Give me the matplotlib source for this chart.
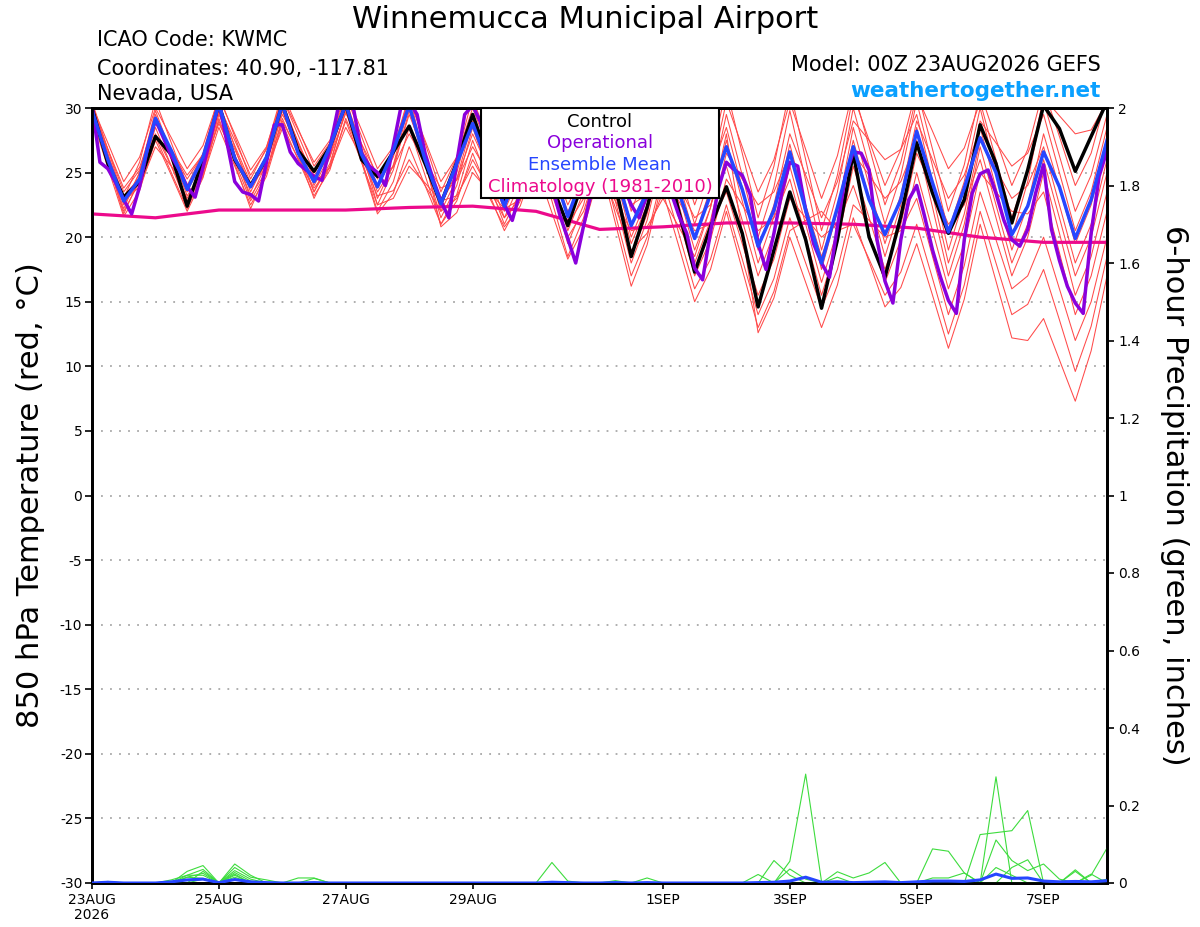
import matplotlib
matplotlib.use("Agg")
import matplotlib.pyplot as plt
from matplotlib.patches import Rectangle
import numpy as np

plt.rcParams['font.family'] = ['DejaVu Sans']

# ---------------- data ----------------
tick_days = [0, 2, 4, 6, 9, 11, 13, 15]
tick_labels = ["23AUG\n2026", "25AUG", "27AUG", "29AUG", "1SEP", "3SEP", "5SEP", "7SEP"]
temp_ticks = [-30, -25, -20, -15, -10, -5, 0, 5, 10, 15, 20, 25, 30]
precip_ticks = [0, 0.2, 0.4, 0.6, 0.8, 1, 1.2, 1.4, 1.6, 1.8, 2]
precip_tick_labels = ["0", "0.2", "0.4", "0.6", "0.8", "1", "1.2", "1.4", "1.6", "1.8", "2"]

# 6-hourly series (65 values, 00Z 23AUG to 00Z 8SEP)
control = [30.0, 25.7, 23.1, 24.3, 27.8, 26.4, 22.4, 26.0, 30.3, 26.0,
           24.0, 26.1, 30.3, 26.7, 25.1, 27.0, 30.3, 26.0, 24.7, 26.6,
           28.6, 25.7, 22.6, 25.8, 29.5, 26.0, 22.9, 26.0, 29.5, 24.0,
           20.9, 24.5, 29.0, 24.0, 18.5, 22.3, 27.0, 22.0, 17.3, 20.8,
           23.9, 20.3, 14.6, 19.0, 23.5, 19.8, 14.5, 19.8, 26.5, 20.0,
           16.9, 21.6, 27.3, 23.4, 20.3, 22.9, 28.7, 25.7, 21.1, 25.2,
           30.2, 28.4, 25.1, 27.8, 30.5]

ens_mean = [29.8, 26.0, 22.8, 24.5, 29.2, 26.7, 23.7, 26.2, 30.3, 26.1,
            23.9, 26.2, 30.3, 26.5, 24.3, 27.0, 30.3, 26.4, 23.9, 26.7,
            30.2, 26.0, 22.6, 25.7, 28.8, 25.5, 22.4, 25.5, 29.0, 25.5,
            21.6, 25.0, 29.0, 25.0, 20.9, 23.5, 27.5, 23.5, 19.9, 23.3,
            27.0, 23.7, 19.3, 22.1, 26.6, 22.1, 18.0, 22.3, 27.0, 22.9,
            20.2, 22.9, 28.2, 24.2, 20.4, 23.8, 27.7, 25.0, 20.2, 22.4,
            26.6, 23.9, 19.9, 22.9, 27.5]

# 3-hourly operational run (129 values)
operational = [30.2, 25.8, 25.3, 24.2, 22.9, 21.8, 23.9, 26.9, 29.1, 27.7,
               26.3, 25.2, 23.9, 23.1, 25.4, 27.8, 30.5, 27.4, 24.3, 23.5,
               23.3, 22.8, 25.8, 28.7, 28.7, 26.6, 25.7, 25.2, 24.7, 24.4,
               26.9, 29.9, 30.5, 29.9, 26.5, 25.5, 25.0, 24.0, 27.1, 30.2,
               30.5, 29.5, 26.5, 24.5, 22.8, 21.5, 25.8, 29.5, 30.2, 28.9,
               26.0, 24.0, 22.5, 21.3, 23.5, 26.5, 29.0, 27.0, 24.0, 21.7,
               19.9, 18.0, 20.9, 23.5, 27.0, 28.0, 26.0, 24.0, 22.5, 21.5,
               23.3, 25.5, 25.5, 23.5, 21.7, 20.3, 17.6, 16.7, 20.4, 23.8,
               25.8, 25.2, 24.8, 23.3, 19.5, 17.5, 20.3, 23.5, 25.8, 25.5,
               22.1, 19.5, 18.0, 16.9, 20.8, 24.7, 26.6, 26.5, 25.2, 19.8,
               16.6, 14.9, 19.8, 22.9, 24.0, 21.6, 19.0, 16.9, 15.1, 14.1,
               19.8, 23.4, 24.9, 25.2, 23.4, 21.3, 19.8, 19.3, 20.6, 23.4,
               25.6, 20.6, 18.2, 16.2, 14.9, 14.1, 20.3, 24.7, 26.7]

# daily climatology (17 values, 00Z each day)
climatology = [21.8, 21.5, 22.1, 22.1, 22.1, 22.3, 22.4, 22.0, 20.6, 20.8,
               21.1, 21.1, 21.0, 20.7, 20.0, 19.6, 19.6]

member_01 = [30.5,26.8,23.0,25.8, 30.6,27.3,24.0,26.5, 31.0,27.8,24.5,26.9, 31.2,28.4,25.5,27.3,
             31.0,27.8,24.5,26.8, 31.0,27.3,23.5,26.2, 30.8,27.4,24.0,26.5, 31.0,27.0,23.0,26.1,
             31.2,26.6,22.0,25.3, 30.5,26.5,22.5,26.0, 31.5,26.5,21.5,25.5, 31.5,26.0,20.5,24.8,
             31.0,27.5,24.0,26.8, 31.5,26.8,22.0,25.6, 31.2,27.6,24.0,26.8, 31.5,27.8,24.0,26.5, 31.0]
member_02 = [30.2,27.3,24.3,26.2, 30.0,27.7,25.3,27.1, 30.8,28.0,25.2,27.0, 30.8,28.3,25.8,27.5,
             31.2,28.3,25.3,27.0, 30.6,27.5,24.3,26.2, 30.0,26.8,23.5,25.9, 30.2,27.3,24.3,26.4,
             30.5,27.2,23.8,25.7, 29.5,25.3,21.0,24.8, 30.5,27.0,23.5,26.0, 30.5,26.8,23.0,26.3,
             31.5,27.0,22.5,25.8, 31.0,28.2,25.3,26.9, 30.5,26.0,21.5,25.2, 30.8,29.4,28.0,28.3, 30.5]
member_03 = [30.0,26.3,22.5,25.0, 29.5,26.5,23.5,26.0, 30.5,27.0,23.5,26.0, 30.5,27.3,24.0,26.3,
             30.5,26.8,23.0,25.6, 30.2,26.4,22.5,25.0, 29.5,25.8,22.0,24.9, 29.8,25.7,21.5,24.8,
             30.0,25.5,21.0,23.8, 28.5,24.3,20.0,23.8, 29.5,24.8,20.0,23.9, 29.8,24.4,19.0,23.5,
             30.0,25.5,21.0,24.8, 30.5,25.5,20.5,24.3, 30.0,25.0,20.0,24.3, 30.5,26.3,22.0,24.8, 29.5]
member_04 = [29.8,26.8,23.8,25.4, 29.0,26.8,24.5,26.4, 30.2,27.5,24.8,26.8, 30.8,27.9,25.0,26.7,
             30.4,27.2,24.0,26.2, 30.4,26.2,22.0,24.5, 29.0,26.0,23.0,25.1, 29.2,25.9,22.5,25.0,
             29.5,24.8,20.0,23.0, 28.0,25.8,23.5,25.0, 28.5,23.8,19.0,22.5, 28.0,24.8,21.5,24.3,
             29.0,27.5,26.0,26.8, 29.5,24.3,19.0,23.0, 29.0,27.3,25.5,26.5, 29.5,25.0,20.5,23.5, 28.5]
member_05 = [29.6,25.8,22.0,24.3, 28.5,25.5,22.5,25.2, 29.8,26.4,23.0,25.7, 30.4,27.0,23.5,26.2,
             30.8,26.7,22.5,25.2, 29.8,25.7,21.5,24.0, 28.5,25.0,21.5,24.2, 28.8,24.7,20.5,23.5,
             28.5,24.0,19.5,22.5, 27.5,23.3,19.0,22.3, 27.5,22.8,18.0,21.6, 27.2,22.4,17.5,22.0,
             28.5,24.0,19.5,23.3, 29.0,26.0,23.0,24.8, 28.5,23.8,19.0,22.5, 28.0,23.8,19.5,22.5, 27.5]
member_06 = [29.4,26.3,23.2,24.6, 28.0,25.5,23.0,25.3, 29.5,26.8,24.0,26.1, 30.2,27.4,24.5,26.4,
             30.2,26.9,23.5,25.5, 29.5,26.3,23.0,24.5, 28.0,25.3,22.5,24.5, 28.5,25.3,22.0,24.0,
             28.0,23.3,18.5,21.8, 27.0,22.5,18.0,21.3, 26.5,24.5,22.5,23.5, 26.5,22.5,18.5,22.0,
             27.5,23.0,18.5,22.5, 28.5,23.3,18.0,21.8, 27.5,25.3,23.0,24.0, 27.0,22.5,18.0,21.0, 26.0]
member_07 = [29.2,25.4,21.6,23.6, 27.5,24.8,22.0,24.6, 29.2,25.7,22.2,25.0, 29.8,26.4,23.0,25.5,
             30.0,26.0,22.0,24.3, 28.5,24.8,21.0,23.3, 27.5,24.3,21.0,23.5, 28.0,23.8,19.5,22.5,
             27.5,22.8,18.0,21.3, 26.5,24.0,21.5,22.5, 25.5,21.3,17.0,20.3, 25.5,21.0,16.5,20.5,
             26.5,24.8,23.0,24.3, 27.5,22.3,17.0,21.0, 27.0,22.5,18.0,21.0, 26.0,21.5,17.0,20.0, 25.0]
member_08 = [30.0,26.4,22.8,23.9, 27.0,25.5,24.0,25.4, 28.8,26.3,23.8,25.7, 29.5,27.2,24.8,26.2,
             29.6,27.2,24.8,25.4, 28.0,25.9,23.8,24.4, 27.0,24.9,22.8,24.2, 27.5,24.3,21.0,23.0,
             27.0,24.8,22.5,23.3, 26.0,21.5,17.0,19.8, 24.5,22.5,20.5,21.5, 24.5,20.0,15.5,19.5,
             25.5,21.5,17.5,21.0, 26.5,23.8,21.0,22.5, 26.0,21.5,17.0,20.0, 25.0,20.3,15.5,18.5, 23.5]
member_09 = [29.5,25.9,22.2,25.0, 29.8,26.5,23.2,25.1, 29.0,25.9,22.8,25.0, 29.2,26.4,23.5,25.7,
             29.8,25.8,21.8,23.4, 27.0,24.0,21.0,22.8, 26.5,23.5,20.5,22.8, 27.0,22.8,18.5,21.5,
             26.5,21.8,17.0,20.0, 25.0,22.8,20.5,21.0, 23.5,19.5,15.5,18.3, 23.0,21.5,20.0,21.0,
             24.0,20.3,16.5,19.8, 25.0,20.5,16.0,19.5, 25.0,23.5,22.0,21.8, 23.5,18.8,14.0,17.0, 22.0]
member_10 = [29.8,25.8,21.8,24.5, 29.2,26.0,22.8,24.7, 28.5,25.5,22.5,24.7, 28.8,26.0,23.2,25.2,
             29.2,26.2,23.2,23.6, 26.0,24.0,22.0,23.0, 26.0,23.8,21.5,23.0, 26.5,23.3,20.0,22.0,
             26.0,21.1,16.2,19.4, 24.5,20.3,16.0,18.3, 22.5,18.3,14.0,16.8, 21.5,18.0,14.5,17.5,
             22.5,21.3,20.0,20.5, 23.0,18.5,14.0,17.8, 23.5,19.8,16.0,17.0, 20.0,16.0,12.0,15.0, 20.0]
member_11 = [30.1,26.8,23.5,25.2, 28.8,26.8,24.8,26.4, 30.0,27.1,24.2,25.3, 28.4,26.1,23.8,25.4,
             29.0,25.8,22.5,23.0, 25.5,24.2,22.8,23.2, 25.5,23.2,20.8,22.4, 26.0,24.8,23.5,23.5,
             25.5,22.3,19.0,20.3, 23.5,19.3,15.0,17.5, 22.0,17.5,13.0,15.8, 20.5,21.3,22.0,20.5,
             21.0,18.3,15.5,17.3, 21.0,16.8,12.5,16.3, 22.0,18.0,14.0,14.8, 17.5,13.6,9.6,13.1, 18.5]
member_12 = [30.3,26.5,22.6,24.2, 27.8,25.0,22.2,24.9, 29.6,26.4,23.2,25.1, 29.0,26.6,24.2,25.4,
             28.5,26.2,23.8,26.4, 31.0,25.9,20.8,21.9, 25.0,23.6,22.2,22.9, 25.5,21.9,18.3,20.7,
             25.0,22.8,20.5,20.8, 23.0,20.8,18.5,22.3, 28.0,20.3,12.6,15.3, 20.0,16.5,13.0,16.3,
             21.5,18.1,14.6,16.1, 19.5,15.5,11.4,15.2, 21.0,16.6,12.2,12.0, 13.7,10.5,7.3,11.2, 17.0]

# 6-hour precipitation (inches)
precip_mean = [0,0.002,0,0,0,0.003,0.008,0.01, 0.001,0.009,0.003,0.001,0,0,0.001,0,
               0,0,0,0,0,0,0,0, 0,0,0,0,0,0.002,0.001,0,
               0,0.001,0,0.001,0,0,0,0, 0,0,0.001,0.002,0.005,0.015,0.002,0.003,
               0.001,0.002,0.003,0.001,0.003,0.005,0.005,0.004, 0.008,0.023,0.012,0.013,0.005,0.003,0.004,0.003,
               0.006]
precip_01 = [0,0,0,0,0,0,0.03,0.045, 0,0.049,0.02,0,0,0,0,0, 0,0,0,0,0,0,0,0, 0,0,0,0,0,0,0,0,
             0,0,0,0,0,0,0,0, 0,0,0,0,0.056,0.281,0.004,0, 0,0,0,0,0,0,0,0, 0,0.274,0,0,0,0,0.034,0, 0]
precip_02 = [0,0,0,0,0,0,0.02,0.035, 0,0.032,0.01,0,0,0,0,0, 0,0,0,0,0,0,0,0, 0,0,0,0,0,0.053,0.005,0,
             0,0,0,0,0,0,0,0, 0,0,0,0,0,0,0,0, 0,0,0,0,0,0.088,0.082,0.026, 0,0,0,0,0,0,0,0.02, 0.09]
precip_03 = [0,0,0,0,0,0,0,0.03, 0,0.023,0,0,0,0.013,0.013,0, 0,0,0,0,0,0,0,0, 0,0,0,0,0,0,0,0,
             0,0,0,0,0,0,0,0, 0,0,0,0,0.036,0.01,0,0.029, 0.013,0.026,0.053,0,0,0,0,0, 0,0,0,0,0,0,0,0, 0]
precip_04 = [0,0,0,0,0,0,0.015,0.025, 0,0.04,0.015,0.008,0,0,0,0, 0,0,0,0,0,0,0,0, 0,0,0,0,0,0,0,0,
             0,0,0,0.013,0,0,0,0, 0,0,0.022,0,0,0,0,0, 0,0,0,0,0,0,0,0, 0.125,0.13,0.135,0.187,0,0,0,0, 0]
precip_05 = [0,0,0,0,0,0.008,0.02,0.02, 0,0.015,0,0,0,0,0,0, 0,0,0,0,0,0,0,0, 0,0,0,0,0,0,0,0,
             0,0.006,0,0,0,0,0,0, 0,0,0,0,0,0,0,0, 0,0,0,0,0,0,0,0, 0,0.111,0.058,0.032,0.049,0.01,0,0.023, 0]
precip_06 = [0,0.004,0,0,0,0,0.015,0.012, 0,0.027,0.005,0,0,0,0.012,0, 0,0,0,0,0,0,0,0, 0,0,0,0,0,0,0,0,
             0,0,0,0,0,0,0,0, 0,0,0,0,0,0,0,0, 0,0,0,0,0,0.013,0.013,0.026, 0,0,0.04,0.06,0,0,0.03,0, 0]
precip_07 = [0,0,0,0,0,0,0,0.01, 0,0.02,0,0,0,0,0,0, 0,0,0,0,0,0,0,0, 0,0,0,0,0,0,0,0,
             0,0,0,0,0,0,0,0, 0,0,0,0.058,0.02,0,0,0.015, 0,0,0,0,0,0,0,0, 0,0.04,0.02,0,0,0,0,0, 0.01]

members = [member_01, member_02, member_03, member_04, member_05, member_06,
           member_07, member_08, member_09, member_10, member_11, member_12]
precip_members = [precip_01, precip_02, precip_03, precip_04, precip_05, precip_06, precip_07]

# ---------------- styling ----------------
C_CTRL = 'black'
C_OPER = '#8a00dc'
C_MEAN = '#2646ff'
C_CLIM = '#ec0a8c'
C_MEMB = '#ff4a4a'
C_GREEN = '#3ddc3d'
C_SITE = '#0aa0ff'

W, H = 1200, 927
fig = plt.figure(figsize=(W / 100, H / 100), dpi=100)
L, R, T, B = 92, 1107, 108, 883
ax = fig.add_axes([L / W, (H - B) / H, (R - L) / W, (B - T) / H])

t6 = np.arange(len(control)) * 0.25
t3 = np.arange(len(operational)) * 0.125
td = np.arange(len(climatology)) * 1.0

for m in members:
    ax.plot(t6, m, color=C_MEMB, lw=0.75, zorder=2)
ax.plot(td, climatology, color=C_CLIM, lw=2.3, zorder=3)
ax.plot(t6, control, color=C_CTRL, lw=2.5, zorder=4)
ax.plot(t3, operational, color=C_OPER, lw=2.5, zorder=5)
ax.plot(t6, ens_mean, color=C_MEAN, lw=2.5, zorder=6)

ax.set_xlim(0, 16)
ax.set_ylim(-30, 30)
ax.set_yticks(temp_ticks)
ax.set_yticklabels([str(v) for v in temp_ticks])
ax.set_xticks(tick_days)
ax.set_xticklabels(tick_labels, fontsize=10, linespacing=1.15)
ax.tick_params(axis='y', direction='out', length=5, width=1.2, pad=2, labelsize=10)
ax.tick_params(axis='x', direction='out', length=4, width=1.2, pad=3, labelsize=10)
ax.yaxis.grid(True, linestyle=(0, (1, 4)), color='#a8a8a8', lw=1.3)
ax.set_axisbelow(True)
for s in ax.spines.values():
    s.set_linewidth(2.0)
    s.set_color('black')

ax2 = ax.twinx()
for p in precip_members:
    ax2.plot(t6, p, color=C_GREEN, lw=0.8, zorder=2)
ax2.plot(t6, precip_mean, color=C_MEAN, lw=2.2, zorder=3)
ax2.set_ylim(0, 2)
ax2.set_xlim(0, 16)
ax2.set_yticks(precip_ticks)
ax2.set_yticklabels(precip_tick_labels)
ax2.tick_params(axis='y', direction='out', length=5, width=1.2, pad=3, labelsize=10)
for s in ax2.spines.values():
    s.set_linewidth(2.0)
    s.set_color('black')

def fx(x):
    return x / W

def fy(y):
    return 1 - y / H

# titles and annotation
fig.text(fx(585), fy(28), "Winnemucca Municipal Airport", fontsize=22, ha='center', va='baseline')
fig.text(fx(97), fy(46), "ICAO Code: KWMC", fontsize=15, ha='left', va='baseline')
fig.text(fx(97), fy(75), "Coordinates: 40.90, -117.81", fontsize=15, ha='left', va='baseline')
fig.text(fx(97), fy(100), "Nevada, USA", fontsize=15, ha='left', va='baseline')
fig.text(fx(1101), fy(71), "Model: 00Z 23AUG2026 GEFS", fontsize=15, ha='right', va='baseline')
fig.text(fx(1101), fy(97), "weathertogether.net", fontsize=15.5, fontweight='bold',
         color=C_SITE, ha='right', va='baseline')

fig.text(fx(31), fy(495), "850 hPa Temperature (red, °C)", fontsize=22, rotation=90,
         ha='center', va='center')
fig.text(fx(1174), fy(495), "6-hour Precipitation (green, inches)", fontsize=22, rotation=270,
         ha='center', va='center')

# legend box
fig.add_artist(Rectangle((fx(481), fy(198)), (719 - 481) / W, (198 - 108) / H,
                         transform=fig.transFigure, facecolor='white', edgecolor='black',
                         lw=1.5, zorder=10))
legend_items = [("Control", C_CTRL, 127), ("Operational", C_OPER, 148),
                ("Ensemble Mean", C_MEAN, 170), ("Climatology (1981-2010)", C_CLIM, 192)]
for txt, col, yb in legend_items:
    fig.text(fx(600), fy(yb), txt, fontsize=13, color=col, ha='center', va='baseline', zorder=11)

fig.savefig("out.png", dpi=100)
